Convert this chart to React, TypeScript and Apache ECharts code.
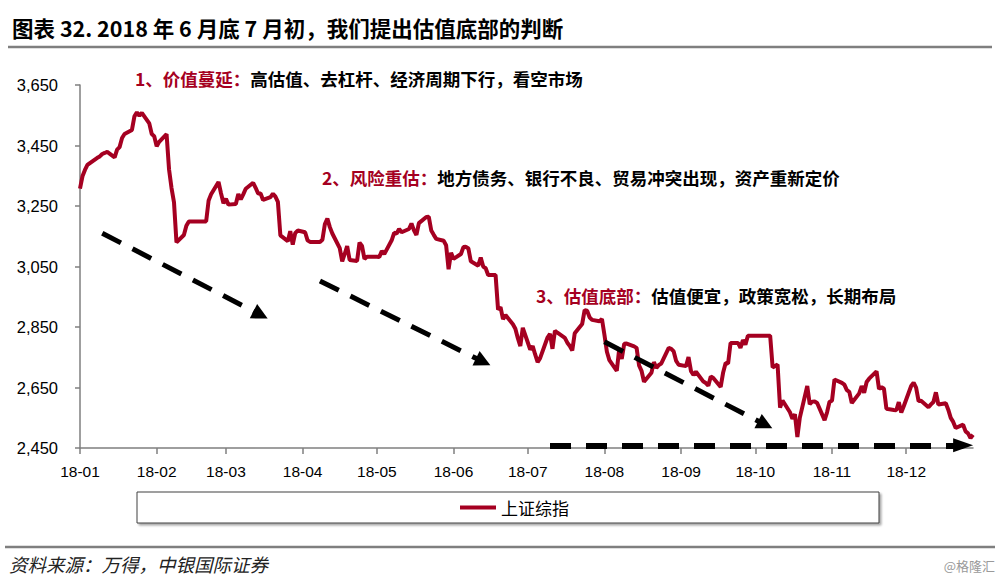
import React, { useEffect, useRef } from "react";
import * as echarts from "echarts";

const year = "2018";
const seriesName = "上证综指";

// trading days (plus holiday carry-forward points as shown in the picture)
const days = [
  "01-01", "01-02", "01-03", "01-04", "01-05", "01-08", "01-09", "01-10", "01-11", "01-12",
  "01-15", "01-16", "01-17", "01-18", "01-19", "01-22", "01-23", "01-24", "01-25", "01-26",
  "01-29", "01-30", "01-31",
  "02-01", "02-02", "02-05", "02-06", "02-07", "02-08", "02-09", "02-12", "02-13", "02-14",
  "02-21", "02-22", "02-23", "02-26", "02-27", "02-28",
  "03-01", "03-02", "03-05", "03-06", "03-07", "03-08", "03-09", "03-12", "03-13", "03-14",
  "03-15", "03-16", "03-19", "03-20", "03-21", "03-22", "03-23", "03-26", "03-27", "03-28",
  "03-29", "03-30",
  "04-02", "04-03", "04-04", "04-08", "04-09", "04-10", "04-11", "04-12", "04-13", "04-16",
  "04-17", "04-18", "04-19", "04-20", "04-23", "04-24", "04-25", "04-26", "04-27", "05-01",
  "05-02", "05-03", "05-04", "05-07", "05-08", "05-09", "05-10", "05-11", "05-14", "05-15",
  "05-16", "05-17", "05-18", "05-21", "05-22", "05-23", "05-24", "05-25", "05-28", "05-29",
  "05-30", "05-31",
  "06-01", "06-04", "06-05", "06-06", "06-07", "06-08", "06-11", "06-12", "06-13", "06-14",
  "06-15", "06-18", "06-19", "06-20", "06-21", "06-22", "06-25", "06-26", "06-27", "06-28",
  "06-29",
  "07-02", "07-03", "07-04", "07-05", "07-06", "07-09", "07-10", "07-11", "07-12", "07-13",
  "07-16", "07-17", "07-18", "07-19", "07-20", "07-23", "07-24", "07-25", "07-26", "07-27",
  "07-30", "07-31",
  "08-01", "08-02", "08-03", "08-06", "08-07", "08-08", "08-09", "08-10", "08-13", "08-14",
  "08-15", "08-16", "08-17", "08-20", "08-21", "08-22", "08-23", "08-24", "08-27", "08-28",
  "08-29", "08-30", "08-31",
  "09-03", "09-04", "09-05", "09-06", "09-07", "09-10", "09-11", "09-12", "09-13", "09-14",
  "09-17", "09-18", "09-19", "09-20", "09-21", "09-24", "09-25", "09-26", "09-27", "09-28",
  "10-07", "10-08", "10-09", "10-10", "10-11", "10-12", "10-15", "10-16", "10-17", "10-18",
  "10-19", "10-22", "10-23", "10-24", "10-25", "10-26", "10-29", "10-30", "10-31",
  "11-01", "11-02", "11-05", "11-06", "11-07", "11-08", "11-09", "11-12", "11-13", "11-14",
  "11-15", "11-16", "11-19", "11-20", "11-21", "11-22", "11-23", "11-26", "11-27", "11-28",
  "11-29", "11-30",
  "12-03", "12-04", "12-05", "12-06", "12-07", "12-10", "12-11", "12-12", "12-13", "12-14",
  "12-17", "12-18", "12-19", "12-20", "12-21", "12-24", "12-25", "12-26", "12-27", "12-28",
];

const closes = [
  3307.17, 3348.33, 3369.11, 3385.71, 3391.75, 3409.48, 3413.9, 3421.83, 3425.35, 3428.94,
  3410.49, 3436.59, 3444.67, 3474.75, 3487.86, 3501.36, 3546.5, 3559.47, 3548.31, 3558.13,
  3523.0, 3488.01, 3480.83,
  3447.03, 3462.08, 3487.5, 3370.65, 3309.26, 3262.05, 3129.85, 3154.13, 3184.96, 3199.16,
  3199.16, 3268.56, 3289.02, 3329.57, 3292.07, 3259.41,
  3273.75, 3254.53, 3256.93, 3289.64, 3271.67, 3288.41, 3307.17, 3326.7, 3310.24, 3291.38,
  3291.11, 3269.88, 3279.25, 3290.64, 3280.95, 3263.48, 3152.76, 3133.72, 3166.65, 3122.29,
  3160.53, 3168.9,
  3163.18, 3136.63, 3131.11, 3131.11, 3138.29, 3190.32, 3208.08, 3180.16, 3159.05, 3110.65,
  3066.8, 3091.4, 3117.38, 3071.54, 3068.01, 3128.93, 3117.97, 3075.03, 3082.23, 3082.23,
  3081.18, 3100.86, 3091.03, 3136.64, 3161.5, 3159.15, 3174.41, 3163.26, 3174.03, 3192.12,
  3169.57, 3154.28, 3193.3, 3213.84, 3214.35, 3168.96, 3154.65, 3141.3, 3135.08, 3120.46,
  3041.0, 3095.47,
  3075.14, 3091.19, 3114.21, 3115.18, 3109.5, 3067.15, 3052.78, 3079.8, 3049.8, 3044.16,
  3021.9, 3021.9, 2907.82, 2915.73, 2875.81, 2889.76, 2859.34, 2844.51, 2813.18, 2786.9,
  2847.42,
  2775.56, 2786.89, 2759.13, 2733.88, 2747.23, 2815.11, 2827.63, 2777.77, 2837.66, 2831.18,
  2814.04, 2798.13, 2787.26, 2772.55, 2829.27, 2859.54, 2905.56, 2903.65, 2882.23, 2873.59,
  2869.05, 2876.4,
  2824.53, 2768.02, 2740.44, 2705.16, 2779.37, 2744.07, 2794.38, 2795.31, 2785.87, 2780.96,
  2723.26, 2705.19, 2668.97, 2698.47, 2733.85, 2714.61, 2724.62, 2729.43, 2780.9, 2777.98,
  2769.3, 2737.74, 2725.25,
  2720.73, 2750.58, 2704.34, 2691.59, 2702.3, 2669.48, 2664.8, 2656.11, 2686.58, 2681.64,
  2651.79, 2699.95, 2730.85, 2729.24, 2797.49, 2797.49, 2781.14, 2806.81, 2791.77, 2821.35,
  2821.35, 2716.51, 2721.01, 2725.84, 2583.46, 2606.91, 2568.1, 2546.33, 2561.61, 2486.42,
  2550.47, 2654.88, 2594.83, 2603.3, 2603.8, 2598.85, 2542.1, 2568.05, 2602.78,
  2606.24, 2676.48, 2665.43, 2659.36, 2641.34, 2635.63, 2598.87, 2630.52, 2654.88, 2632.24,
  2668.17, 2679.11, 2703.51, 2645.43, 2651.51, 2645.85, 2579.48, 2575.81, 2574.68, 2601.74,
  2567.44, 2588.19,
  2654.8, 2665.96, 2649.81, 2605.18, 2605.89, 2584.58, 2594.09, 2602.15, 2634.05, 2593.74,
  2597.97, 2576.65, 2549.56, 2536.27, 2516.25, 2527.01, 2504.82, 2498.29, 2483.09, 2493.9,
];

const yMin = 2450;
const yMax = 3650;
const yStep = 200;
const xStart = "2018-01-01";
const xEnd = "2018-12-28";

const titleText = "图表 32. 2018 年 6 月底 7 月初，我们提出估值底部的判断";
const sourceText = "资料来源：万得，中银国际证券";
const watermarkText = "@格隆汇";
const noteHeads = ["1、价值蔓延：", "2、风险重估：", "3、估值底部："];
const noteBodies = [
  "高估值、去杠杆、经济周期下行，看空市场",
  "地方债务、银行不良、贸易冲突出现，资产重新定价",
  "估值便宜，政策宽松，长期布局",
];

// trend arrows: [start date, start value, end date, end value]
const trendArrows: [string, number, string, number][] = [
  ["2018-01-10", 3160, "2018-03-15", 2890],
  ["2018-04-08", 3002, "2018-06-13", 2735],
  ["2018-08-01", 2801, "2018-10-05", 2527],
  ["2018-07-10", 2459, "2018-12-24", 2459],
];

export default function App() {
  const ref = useRef<HTMLDivElement>(null);

  useEffect(() => {
    if (!ref.current) return;
    const chart = echarts.init(ref.current, null, { renderer: "svg" });
    const data = days.map((d, i) => [`${year}-${d}`, closes[i]]);
    const cjk = '"Noto Sans CJK SC", sans-serif';
    const latin = '"Liberation Sans", Arial, sans-serif';
    const red = "#A50021";
    const gray = "#7f7f7f";
    const noteXY = [
      [135, 78],
      [322, 177],
      [536, 295],
    ];
    const arrowLook = [
      { width: 5, dash: [21, 13], head: [16, 16] },
      { width: 5, dash: [21, 13], head: [16, 16] },
      { width: 5, dash: [21, 13], head: [16, 16] },
      { width: 6, dash: [21, 15], head: [14, 20] },
    ];

    const markData = trendArrows.map((a, i) => [
      {
        coord: [a[0], a[1]],
        symbol: "none",
        lineStyle: {
          color: "#000",
          width: arrowLook[i].width,
          type: arrowLook[i].dash,
          cap: "butt",
        },
      },
      {
        coord: [a[2], a[3]],
        symbol: "triangle",
        symbolSize: arrowLook[i].head,
      },
    ]);

    const notes = noteHeads.map((h, i) => ({
      type: "text",
      x: noteXY[i][0],
      y: noteXY[i][1],
      silent: true,
      style: {
        text: `{h|${h}}{b|${noteBodies[i]}}`,
        verticalAlign: "middle",
        rich: {
          h: { fill: red, fontSize: 17.5, fontWeight: "bold", fontFamily: cjk },
          b: { fill: "#000", fontSize: 17.5, fontWeight: "bold", fontFamily: cjk },
        },
      },
    }));

    chart.setOption({
      animation: false,
      backgroundColor: "#fff",
      grid: { left: 80, right: 27, top: 85, bottom: 132 },
      xAxis: {
        type: "time",
        min: xStart,
        max: xEnd,
        splitNumber: 12,
        minInterval: 28 * 86400000,
        maxInterval: 31 * 86400000,
        axisLine: { lineStyle: { color: gray, width: 1.5 } },
        axisTick: { show: true, length: 6, lineStyle: { color: gray, width: 1.5 } },
        splitLine: { show: false },
        axisLabel: {
          fontSize: 15.5,
          fontFamily: latin,
          color: "#000",
          margin: 15,
          showMinLabel: true,
          showMaxLabel: false,
          formatter: (v: number) => {
            const d = new Date(v);
            return `${String(d.getFullYear()).slice(2)}-${String(d.getMonth() + 1).padStart(2, "0")}`;
          },
        },
      },
      yAxis: {
        type: "value",
        min: yMin,
        max: yMax,
        interval: yStep,
        axisLine: { show: true, lineStyle: { color: gray, width: 1.5 } },
        axisTick: { show: true, length: 5, lineStyle: { color: gray, width: 1.5 } },
        splitLine: { show: false },
        axisLabel: {
          fontSize: 16.5,
          fontFamily: latin,
          color: "#000",
          margin: 22,
          formatter: (v: number) => v.toLocaleString("en-US"),
        },
      },
      legend: {
        data: [seriesName],
        left: 137,
        top: 492,
        padding: [7, 310, 7, 323],
        borderColor: "#404040",
        borderWidth: 1,
        backgroundColor: "#fff",
        shadowColor: "rgba(0,0,0,0.35)",
        shadowBlur: 2,
        shadowOffsetX: 2,
        shadowOffsetY: 2,
        icon: "rect",
        itemWidth: 36,
        itemHeight: 4,
        selectedMode: false,
        textStyle: { fontSize: 17, fontFamily: cjk, color: "#000" },
      },
      series: [
        {
          type: "line",
          name: seriesName,
          data,
          symbol: "none",
          showSymbol: false,
          lineStyle: { color: red, width: 4 },
          itemStyle: { color: red },
          emphasis: { disabled: true },
          markLine: {
            silent: true,
            animation: false,
            label: { show: false },
            emphasis: { disabled: true },
            data: markData,
          },
        },
      ],
      graphic: [
        {
          type: "text",
          x: 12,
          y: 27,
          silent: true,
          style: {
            text: titleText,
            fontSize: 21.5,
            fontWeight: "bold",
            fontFamily: cjk,
            fill: "#000",
            verticalAlign: "middle",
          },
        },
        {
          type: "line",
          silent: true,
          shape: { x1: 8, y1: 47, x2: 992, y2: 47 },
          style: { stroke: gray, lineWidth: 2.5 },
        },
        {
          type: "line",
          silent: true,
          shape: { x1: 5, y1: 547, x2: 995, y2: 547 },
          style: { stroke: gray, lineWidth: 2.5 },
        },
        {
          type: "text",
          x: 9,
          y: 564,
          silent: true,
          style: {
            text: sourceText,
            fontSize: 18.5,
            fontStyle: "italic",
            fontFamily: cjk,
            fill: "#222",
            verticalAlign: "middle",
          },
        },
        {
          type: "text",
          x: 995,
          y: 565,
          silent: true,
          style: {
            text: watermarkText,
            fontSize: 13,
            fontFamily: cjk,
            fill: "#9a9a9a",
            align: "right",
            verticalAlign: "middle",
          },
        },
        ...notes,
      ],
    });
    return () => chart.dispose();
  }, []);

  return (
    <div
      ref={ref}
      style={{ position: "absolute", left: 0, top: 0, width: 1000, height: 580, background: "#fff" }}
    />
  );
}
